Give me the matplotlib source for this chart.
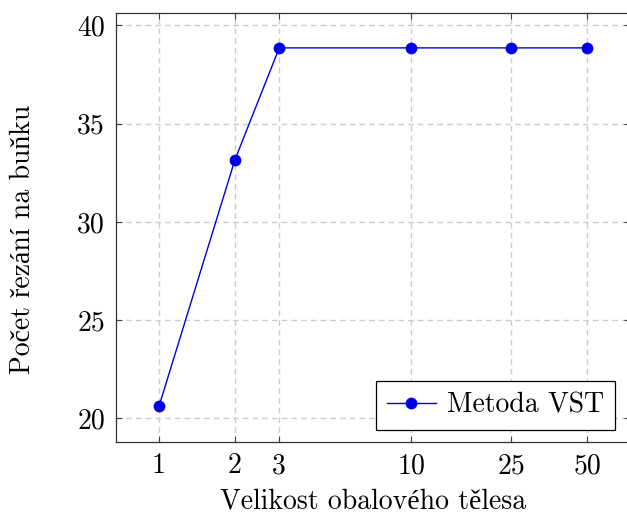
import matplotlib
matplotlib.use("Agg")
import matplotlib.pyplot as plt
from matplotlib.ticker import FixedLocator, FixedFormatter, NullLocator

plt.rcParams['font.family'] = ['cmr10', 'Liberation Serif', 'DejaVu Serif']
plt.rcParams['axes.formatter.use_mathtext'] = True
plt.rcParams['mathtext.fontset'] = 'cm'

sizes = [1, 2, 3, 10, 25, 50]
cuts = [20.62, 33.15, 38.85, 38.85, 38.85, 38.85]
xtick_labels = ['1', '2', '3', '10', '25', '50']
yticks = [20, 25, 30, 35, 40]
series_label = 'Metoda VST'
xlabel = 'Velikost obalového tělesa'
ylabel = 'Počet řezání na buňku'

W, H = 627, 515
fig = plt.figure(figsize=(W / 100, H / 100), dpi=100)
ax = fig.add_axes([116 / W, 1 - 442 / H, (630 - 116) / W, (442 - 12.7) / H])

ax.plot(sizes, cuts, color='#0000e6', lw=1.0, marker='o', ms=8.5,
        markeredgewidth=0, label=series_label, zorder=3)

ax.set_xscale('log')
ax.set_xlim(0.675, 73.96)
ax.set_ylim(18.8, 40.64)
ax.xaxis.set_major_locator(FixedLocator(sizes))
ax.xaxis.set_major_formatter(FixedFormatter(xtick_labels))
ax.xaxis.set_minor_locator(NullLocator())
ax.set_yticks(yticks)
ax.set_yticklabels([str(v) for v in yticks])

ax.grid(True, color='#cccccc', linestyle=(0, (4, 3)), linewidth=1.0, zorder=0)
ax.tick_params(direction='in', length=4.3, width=0.8, color='#444444',
               top=True, right=True, labelsize=20, pad=8)
for s in ax.spines.values():
    s.set_color('#333333')
    s.set_linewidth(0.9)

ax.set_xlabel(xlabel, fontsize=20, labelpad=6)
ax.set_ylabel(ylabel, fontsize=20)
ax.yaxis.set_label_coords(-0.155, 0.473)

leg = ax.legend(loc='lower right', fontsize=20, fancybox=False, framealpha=1,
                edgecolor='black', borderpad=0.4, handlelength=1.75,
                handletextpad=0.4, borderaxespad=0,
                bbox_to_anchor=(0.971, 0.028))
leg.get_frame().set_linewidth(0.9)

fig.savefig('out.png', dpi=100)
